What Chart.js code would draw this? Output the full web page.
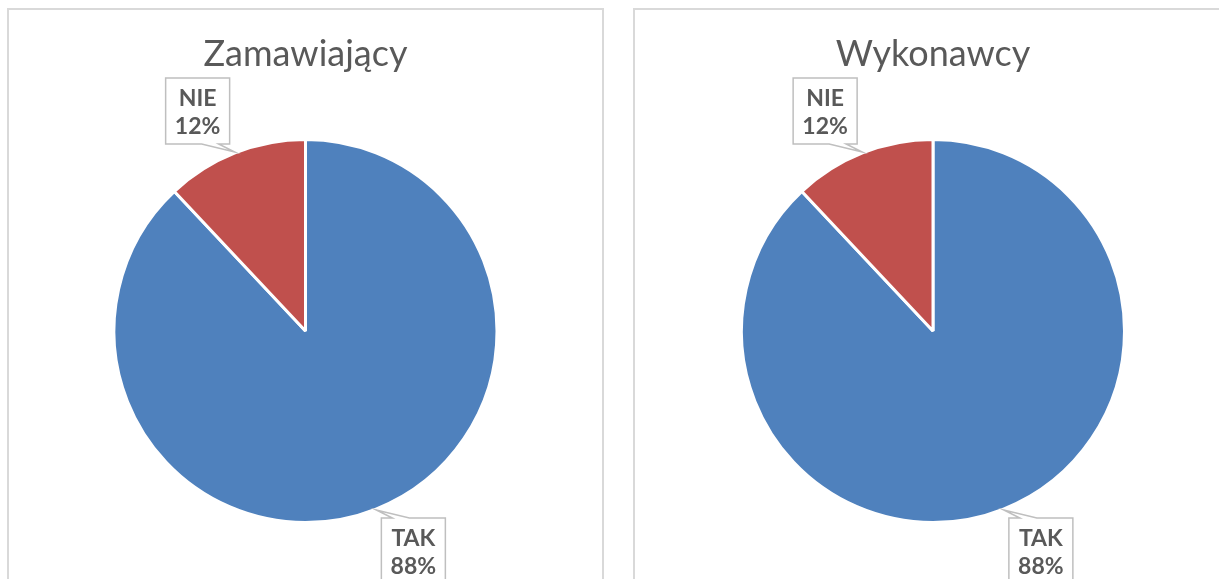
<!DOCTYPE html>
<html>
<head>
<meta charset="utf-8">
<script src="https://cdn.jsdelivr.net/npm/chart.js@4.4.1/dist/chart.umd.min.js"></script>
<style>
  html, body { margin: 0; padding: 0; background: #fff; overflow: hidden; }
  .panel { position: absolute; top: 8px; height: 600px; border: 2px solid #d9d9d9; background: #fff; }
  #p1 { left: 7px; width: 593px; }
  #p2 { left: 633px; width: 596px; }
  canvas { display: block; }
</style>
</head>
<body>
<div class="panel" id="p1"><canvas id="c1" width="593" height="569"></canvas></div>
<div class="panel" id="p2"><canvas id="c2" width="596" height="569"></canvas></div>
<script>
// data
const categories = ["TAK", "NIE"];
const zamawiajacy = [88, 12];
const wykonawcy = [88, 12];
const titles = ["Zamawiający", "Wykonawcy"];
const colors = ["#4f81bd", "#c0504d"];

const TEXT = "#595959";

// callout boxes: tip sits on the arc edge at the slice middle
const calloutPlugin = {
  id: "callouts",
  afterDatasetsDraw(chart) {
    const ctx = chart.ctx;
    const meta = chart.getDatasetMeta(0);
    const data = chart.data.datasets[0].data;
    const total = data.reduce((s, v) => s + v, 0);
    const bw = 64, bh = 66;
    meta.data.forEach((arc, i) => {
      const p = arc.getProps(["x", "y", "startAngle", "endAngle", "outerRadius"], true);
      const mid = (p.startAngle + p.endAngle) / 2;
      const tx = p.x + Math.cos(mid) * (p.outerRadius + 1);
      const ty = p.y + Math.sin(mid) * (p.outerRadius + 1);
      const sx = Math.cos(mid) < 0 ? -1 : 1;
      const sy = Math.sin(mid) < 0 ? -1 : 1;
      const cx = tx + sx * 37, cy = ty + sy * 41;
      const l = cx - bw / 2, r = cx + bw / 2, t = cy - bh / 2, b = cy + bh / 2;

      ctx.save();
      ctx.beginPath();
      if (sy < 0) {
        // box above, wedge on the bottom edge
        ctx.moveTo(l, t); ctx.lineTo(r, t); ctx.lineTo(r, b);
        ctx.lineTo(r - 11, b); ctx.lineTo(tx, ty); ctx.lineTo(r - 28, b);
        ctx.lineTo(l, b); ctx.closePath();
      } else {
        // box below, wedge on the top edge
        ctx.moveTo(l, t); ctx.lineTo(l + 11, t); ctx.lineTo(tx, ty); ctx.lineTo(l + 28, t);
        ctx.lineTo(r, t); ctx.lineTo(r, b); ctx.lineTo(l, b); ctx.closePath();
      }
      ctx.fillStyle = "#fff";
      ctx.fill();
      ctx.strokeStyle = "#bfbfbf";
      ctx.lineWidth = 1.5;
      ctx.stroke();

      ctx.fillStyle = TEXT;
      ctx.font = "bold 23px Lato";
      ctx.textAlign = "center";
      ctx.textBaseline = "alphabetic";
      const pct = Math.round(data[i] / total * 100) + "%";
      ctx.fillText(chart.data.labels[i], cx, cy - 5);
      ctx.fillText(pct, cx, cy + 23);
      ctx.restore();
    });
  }
};

function makePie(id, title, values) {
  return new Chart(document.getElementById(id), {
    type: "pie",
    data: {
      labels: categories,
      datasets: [{
        data: values,
        backgroundColor: colors,
        borderColor: "#ffffff",
        borderWidth: 3,
        hoverOffset: 0
      }]
    },
    options: {
      responsive: false,
      animation: false,
      layout: { padding: { top: 0, bottom: 55, left: 0, right: 0 } },
      plugins: {
        legend: { display: false },
        tooltip: { enabled: false },
        title: {
          display: true,
          text: title,
          color: TEXT,
          font: { family: "Lato", size: 36, weight: "normal" },
          padding: { top: 22.9, bottom: 61.9 }
        }
      }
    },
    plugins: [calloutPlugin]
  });
}

makePie("c1", titles[0], zamawiajacy);
makePie("c2", titles[1], wykonawcy);
</script>
</body>
</html>
